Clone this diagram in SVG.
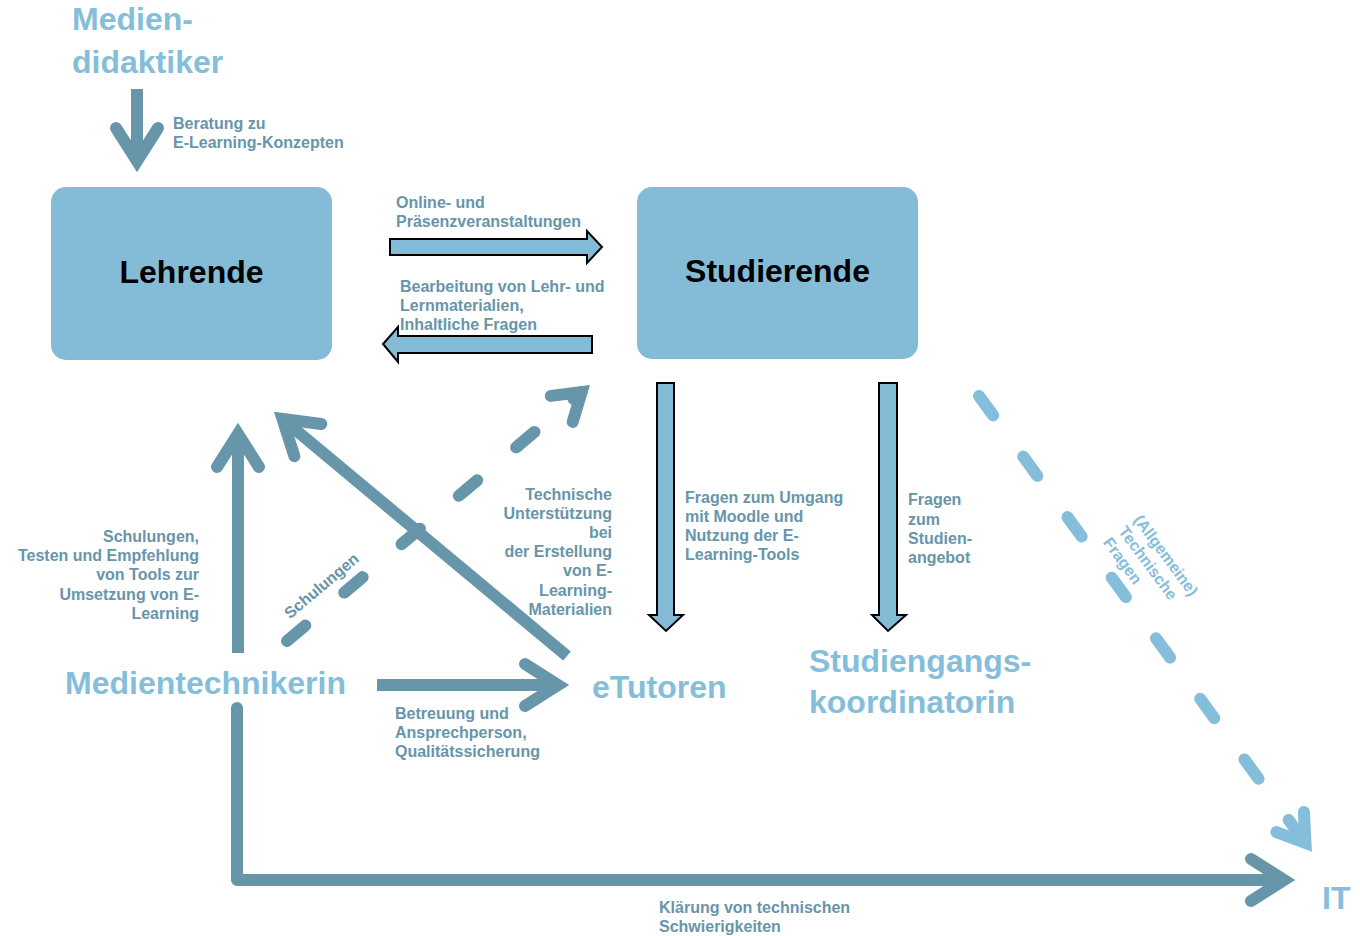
<svg xmlns="http://www.w3.org/2000/svg" width="1360" height="936" viewBox="0 0 1360 936">
<style>
text{font-family:"Liberation Sans",Arial,Helvetica,sans-serif;font-weight:bold}
.node{fill:#84BCD7}
.nt{font-size:32px;fill:#000}
.actor{font-size:32px;fill:#85BEDA}
.lbl{font-size:16px;fill:#6795AA}
.lbl-l{font-size:16px;fill:#85BEDA}
.r{text-anchor:end}
.solid{fill:none;stroke:#6795AA;stroke-width:12;marker-end:url(#headDark)}
.dashD{fill:none;stroke:#6795AA;stroke-width:12;stroke-linecap:round;stroke-dasharray:24 51;marker-end:url(#headDarkS)}
.dashL{fill:none;stroke:#85BEDA;stroke-width:12;stroke-linecap:round;stroke-dasharray:24 51;marker-end:url(#headLightS)}
.block{fill:#84BCD7;stroke:#000;stroke-width:2;stroke-linejoin:miter}
</style>
<defs>
<marker id="headDark" markerUnits="userSpaceOnUse" orient="auto" refX="0" refY="0" markerWidth="80" markerHeight="80" overflow="visible">
<path d="M-33,-21 L0,0 L-33,21" fill="none" stroke="#6795AA" stroke-width="12" stroke-linecap="round" stroke-linejoin="miter" stroke-miterlimit="10"/>
</marker>
<marker id="headDarkS" markerUnits="userSpaceOnUse" orient="auto" refX="0" refY="0" markerWidth="80" markerHeight="80" overflow="visible">
<path d="M-26,-17 L0,0 L-26,17" fill="none" stroke="#6795AA" stroke-width="12" stroke-linecap="round" stroke-linejoin="miter" stroke-miterlimit="10"/>
</marker>
<marker id="headLightS" markerUnits="userSpaceOnUse" orient="auto" refX="0" refY="0" markerWidth="80" markerHeight="80" overflow="visible">
<path d="M-26,-17 L0,0 L-26,17" fill="none" stroke="#85BEDA" stroke-width="12" stroke-linecap="round" stroke-linejoin="miter" stroke-miterlimit="10"/>
</marker>
</defs>
<rect width="1360" height="936" fill="#fff"/>

<g id="connectors">
<!-- Mediendidaktiker -> Lehrende -->
<line class="solid" x1="137" y1="89" x2="137" y2="161"/>
<!-- Lehrende <-> Studierende block arrows -->
<polygon class="block" points="390,239 587,239 587,231 602,247 587,263 587,255 390,255"/>
<polygon class="block" points="592,336 398,336 398,327 383,344 398,362 398,353 592,353"/>
<!-- Studierende -> eTutoren / Koordinatorin -->
<polygon class="block" points="657,383 674,383 674,615 683,615 666,631 649,615 657,615"/>
<polygon class="block" points="879,383 897,383 897,615 906,615 888,631 872,615 879,615"/>
<!-- Medientechnikerin -> Lehrende -->
<line class="solid" x1="238" y1="653" x2="238" y2="434"/>
<!-- eTutoren -> Lehrende -->
<line class="solid" x1="567" y1="656" x2="282.5" y2="419"/>
<!-- Medientechnikerin -> Studierende (dashed) -->
<line class="dashD" x1="287" y1="641" x2="581.6" y2="392.1"/>
<!-- Medientechnikerin -> eTutoren -->
<line class="solid" x1="377" y1="685" x2="558" y2="685"/>
<!-- Medientechnikerin -> IT -->
<path class="solid" d="M237,708 L237,880 L1284,880" stroke-linejoin="round" style="stroke-linecap:butt"/>
<circle cx="237" cy="708" r="6" fill="#6795AA"/>
<!-- Studierende -> IT (dashed) -->
<line class="dashL" x1="979" y1="396" x2="1305.5" y2="843"/>

<!-- labels -->
<text class="lbl" x="173" y="129">Beratung zu</text>
<text class="lbl" x="173" y="148">E-Learning-Konzepten</text>
<text class="lbl" x="396" y="208">Online- und</text>
<text class="lbl" x="396" y="227">Präsenzveranstaltungen</text>
<text class="lbl" x="400" y="292">Bearbeitung von Lehr- und</text>
<text class="lbl" x="400" y="311">Lernmaterialien,</text>
<text class="lbl" x="400" y="330">Inhaltliche Fragen</text>
<text class="lbl r" x="199" y="542">Schulungen,</text>
<text class="lbl r" x="199" y="561">Testen und Empfehlung</text>
<text class="lbl r" x="199" y="580">von Tools zur</text>
<text class="lbl r" x="199" y="600">Umsetzung von E-</text>
<text class="lbl r" x="199" y="619">Learning</text>
<text class="lbl" x="325" y="590" text-anchor="middle" transform="rotate(-40 325 590)">Schulungen</text>
<text class="lbl r" x="612" y="500">Technische</text>
<text class="lbl r" x="612" y="519">Unterstützung</text>
<text class="lbl r" x="612" y="538">bei</text>
<text class="lbl r" x="612" y="557">der Erstellung</text>
<text class="lbl r" x="612" y="576">von E-</text>
<text class="lbl r" x="612" y="596">Learning-</text>
<text class="lbl r" x="612" y="615">Materialien</text>
<text class="lbl" x="685" y="503">Fragen zum Umgang</text>
<text class="lbl" x="685" y="522">mit Moodle und</text>
<text class="lbl" x="685" y="541">Nutzung der E-</text>
<text class="lbl" x="685" y="560">Learning-Tools</text>
<text class="lbl" x="908" y="505">Fragen</text>
<text class="lbl" x="908" y="525">zum</text>
<text class="lbl" x="908" y="544">Studien-</text>
<text class="lbl" x="908" y="563">angebot</text>
<text class="lbl" x="395" y="719">Betreuung und</text>
<text class="lbl" x="395" y="738">Ansprechperson,</text>
<text class="lbl" x="395" y="757">Qualitätssicherung</text>
<text class="lbl" x="659" y="913">Klärung von technischen</text>
<text class="lbl" x="659" y="932">Schwierigkeiten</text>
<g transform="translate(1133,520) rotate(53.5)">
<text class="lbl-l" x="0" y="0">(Allgemeine)</text>
<text class="lbl-l" x="0" y="19">Technische</text>
<text class="lbl-l" x="0" y="38">Fragen</text>
</g>
</g>

<g id="node-mediendidaktiker">
<text class="actor" x="72" y="30">Medien-</text>
<text class="actor" x="72" y="73">didaktiker</text>
</g>
<g id="node-lehrende">
<rect class="node" x="51" y="187" width="281" height="173" rx="15"/>
<text class="nt" x="191.5" y="283" text-anchor="middle">Lehrende</text>
</g>
<g id="node-studierende">
<rect class="node" x="637" y="187" width="281" height="172" rx="15"/>
<text class="nt" x="777.5" y="282" text-anchor="middle">Studierende</text>
</g>
<g id="node-medientechnikerin">
<text class="actor" x="65" y="694">Medientechnikerin</text>
</g>
<g id="node-etutoren">
<text class="actor" x="592" y="698">eTutoren</text>
</g>
<g id="node-studiengangskoordinatorin">
<text class="actor" x="809" y="672">Studiengangs-</text>
<text class="actor" x="809" y="713">koordinatorin</text>
</g>
<g id="node-it">
<text class="actor" x="1322" y="909">IT</text>
</g>
</svg>
